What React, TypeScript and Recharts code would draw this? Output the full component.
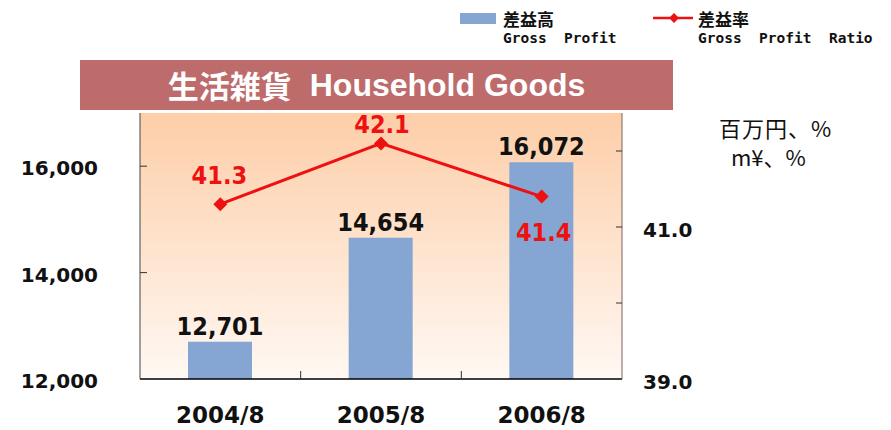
import React from 'react';
import { ComposedChart, Bar, Line, XAxis, YAxis, CartesianGrid, Legend, LabelList } from 'recharts';

const periods = ['2004/8', '2005/8', '2006/8'];
const grossProfit = [12701, 14654, 16072];
const grossProfitRatio = [41.3, 42.1, 41.4];
const profitTicks = [12000, 14000, 16000];
const ratioTicks = [39, 40, 41, 42];

const data = periods.map((period, i) => ({
  period,
  profit: grossProfit[i],
  ratio: grossProfitRatio[i],
}));

// where each ratio label sits relative to its point
const ratioLabelShift = [
  { dx: -1, dy: -29 },
  { dx: 1, dy: -19 },
  { dx: 2, dy: 35 },
];

const BAR_COLOR = '#85A5D3';
const LINE_COLOR = '#EE1111';
const NUM_FONT = "'DejaVu Sans Condensed', 'DejaVu Sans', sans-serif";
const AXIS_FONT = "'DejaVu Sans', sans-serif";
const JP_FONT = "'Noto Sans CJK JP', sans-serif";
const MONO_FONT = "'DejaVu Sans Mono', monospace";

const LEFT_MARGIN = 42;
const RIGHT_MARGIN = 21;
const X_MARGIN = 28;

const LeftTick = (props: any) => {
  const { x, y, payload } = props;
  const edge = x + LEFT_MARGIN;
  return (
    <g>
      {payload.value > profitTicks[0] && <line x1={edge} x2={edge + 7} y1={y} y2={y} stroke="#333" />}
      <text x={x} y={y + 2} dy="0.36em" textAnchor="end" fontFamily={AXIS_FONT} fontWeight="bold" fontSize={20} fill="#111">
        {payload.value.toLocaleString('en-US')}
      </text>
    </g>
  );
};

const RightTick = (props: any) => {
  const { x, y, payload } = props;
  const edge = x - RIGHT_MARGIN;
  return (
    <g>
      {payload.value > ratioTicks[0] && <line x1={edge} x2={edge - 6} y1={y} y2={y} stroke="#333" />}
      {payload.value % 2 === 1 && (
        <text x={x} y={y + 3} dy="0.36em" textAnchor="start" fontFamily={AXIS_FONT} fontWeight="bold" fontSize={20} fill="#111">
          {payload.value.toFixed(1)}
        </text>
      )}
    </g>
  );
};

const XTick = (props: any) => {
  const { x, y, payload, index } = props;
  const axisY = y - X_MARGIN;
  const half = payload.offset ?? 80;
  return (
    <g>
      {index > 0 && <line x1={x - half} x2={x - half} y1={axisY} y2={axisY - 8} stroke="#333" />}
      <text x={x} y={y} dy="0.71em" textAnchor="middle" fontFamily={AXIS_FONT} fontWeight="bold" fontSize={23} fill="#111">
        {payload.value}
      </text>
    </g>
  );
};

const Diamond = (props: any) => {
  const { cx, cy, index } = props;
  const r = 7;
  return (
    <polygon
      key={`d-${index}`}
      points={`${cx},${cy - r} ${cx + r},${cy} ${cx},${cy + r} ${cx - r},${cy}`}
      fill={LINE_COLOR}
    />
  );
};

const RatioLabel = (props: any) => {
  const { x, y, value, index } = props;
  const s = ratioLabelShift[index] || { dx: 0, dy: -20 };
  return (
    <text
      x={x + s.dx}
      y={y + s.dy}
      dy="0.36em"
      textAnchor="middle"
      fontFamily={NUM_FONT}
      fontWeight="bold"
      fontSize={25}
      fill={LINE_COLOR}
    >
      {value.toFixed(1)}
    </text>
  );
};

const LegendContent = () => (
  <div style={{ position: 'relative', width: 430, height: 52, fontWeight: 'bold', color: '#111' }}>
    <div style={{ position: 'absolute', left: 0, top: 13, width: 36, height: 11, background: BAR_COLOR }} />
    <div style={{ position: 'absolute', left: 43, top: 10, fontFamily: JP_FONT, fontSize: 17, lineHeight: '17px' }}>差益高</div>
    <div style={{ position: 'absolute', left: 43, top: 31, fontFamily: MONO_FONT, fontSize: 14.5, lineHeight: '15px', whiteSpace: 'pre' }}>
      Gross  Profit
    </div>
    <svg style={{ position: 'absolute', left: 193, top: 10 }} width={40} height={16}>
      <line x1={0} x2={40} y1={8} y2={8} stroke={LINE_COLOR} strokeWidth={2.5} />
      <polygon points="21,3 26,8 21,13 16,8" fill={LINE_COLOR} />
    </svg>
    <div style={{ position: 'absolute', left: 238, top: 10, fontFamily: JP_FONT, fontSize: 17, lineHeight: '17px' }}>差益率</div>
    <div style={{ position: 'absolute', left: 238, top: 31, fontFamily: MONO_FONT, fontSize: 14.5, lineHeight: '15px', whiteSpace: 'pre' }}>
      Gross  Profit  Ratio
    </div>
  </div>
);

export default function App() {
  return (
    <div style={{ position: 'absolute', left: 0, top: 0, width: 891, height: 430, background: '#fff', overflow: 'hidden' }}>
      <div
        style={{
          position: 'absolute',
          left: 80,
          top: 60,
          width: 593,
          height: 50,
          background: '#BE6B6B',
          color: '#fff',
          fontWeight: 'bold',
          display: 'flex',
          alignItems: 'center',
          justifyContent: 'center',
          whiteSpace: 'pre',
        }}
      >
        <span style={{ fontFamily: JP_FONT, fontSize: 31, lineHeight: '36px', marginRight: 18 }}>生活雑貨</span>
        <span style={{ fontFamily: "'Liberation Sans', Arial, sans-serif", fontSize: 32, lineHeight: '36px' }}>Household Goods</span>
      </div>
      <div style={{ position: 'absolute', left: 719, top: 115, fontFamily: JP_FONT, fontSize: 22, lineHeight: '24px', color: '#111', whiteSpace: 'pre', letterSpacing: 1 }}>
        百万円、%
      </div>
      <div style={{ position: 'absolute', left: 731, top: 144, fontFamily: JP_FONT, fontSize: 22, lineHeight: '24px', color: '#111', whiteSpace: 'pre' }}>
        m¥、%
      </div>
      <ComposedChart width={891} height={430} data={data} margin={{ top: 113, right: 0, bottom: 0, left: 0 }}>
        <defs>
          <linearGradient id="plotBg" x1="0" y1="0" x2="0" y2="1">
            <stop offset="0%" stopColor="#FDCEA8" />
            <stop offset="100%" stopColor="#FFF8F3" />
          </linearGradient>
        </defs>
        <CartesianGrid horizontal={false} vertical={false} fill="url(#plotBg)" fillOpacity={1} />
        <XAxis
          dataKey="period"
          height={51}
          axisLine={{ stroke: '#000', strokeWidth: 1.5 }}
          tickLine={false}
          tickSize={0}
          tickMargin={X_MARGIN}
          tick={<XTick />}
          interval={0}
        />
        <YAxis
          yAxisId="left"
          width={140}
          domain={[12000, 17000]}
          ticks={profitTicks}
          axisLine={{ stroke: '#444' }}
          tickLine={false}
          tickSize={0}
          tickMargin={LEFT_MARGIN}
          tick={<LeftTick />}
          interval={0}
        />
        <YAxis
          yAxisId="right"
          orientation="right"
          width={269}
          domain={[39, 42.5]}
          ticks={ratioTicks}
          axisLine={{ stroke: '#7A6560' }}
          tickLine={false}
          tickSize={0}
          tickMargin={RIGHT_MARGIN}
          tick={<RightTick />}
          interval={0}
        />
        <Legend
          layout="vertical"
          align="center"
          verticalAlign="middle"
          content={<LegendContent />}
          wrapperStyle={{ top: 0, left: 460, width: 430, height: 52 }}
        />
        <Bar yAxisId="left" dataKey="profit" fill={BAR_COLOR} barSize={64} isAnimationActive={false}>
          <LabelList
            dataKey="profit"
            position="top"
            offset={7}
            formatter={(v: any) => Number(v).toLocaleString('en-US')}
            fontFamily={NUM_FONT}
            fontWeight="bold"
            fontSize={25}
            fill="#111"
          />
        </Bar>
        <Line
          yAxisId="right"
          dataKey="ratio"
          stroke={LINE_COLOR}
          strokeWidth={3}
          dot={<Diamond />}
          activeDot={false}
          isAnimationActive={false}
        >
          <LabelList dataKey="ratio" content={<RatioLabel />} />
        </Line>
      </ComposedChart>
    </div>
  );
}
